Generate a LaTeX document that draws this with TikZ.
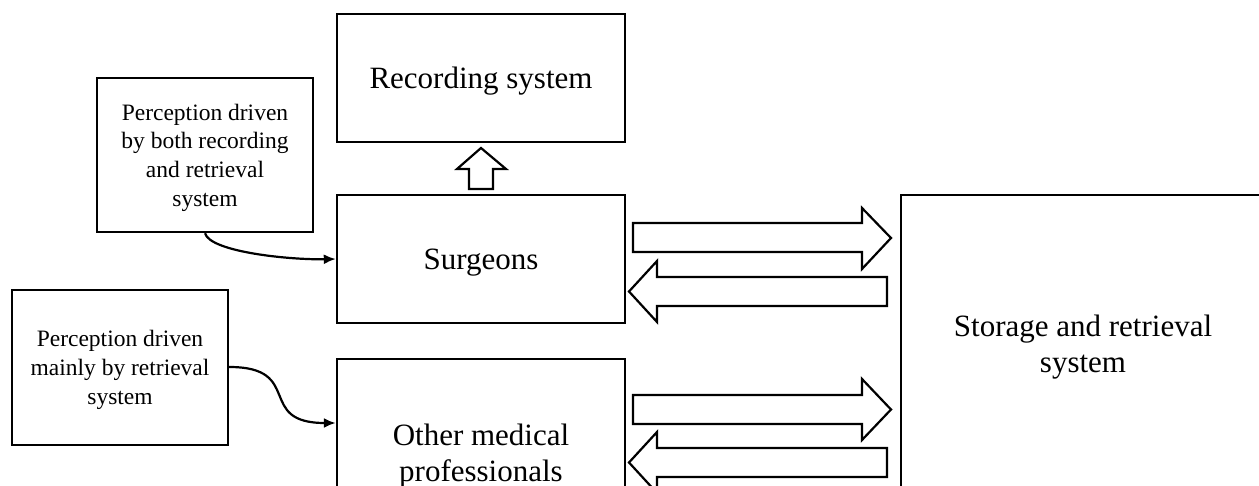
\documentclass[tikz,border=0pt]{standalone}
\usepackage{fontspec}
\setmainfont{Liberation Serif}
\usetikzlibrary{arrows.meta}
\tikzset{
  box/.style={draw, line width=2.4pt, fill=white, align=center, inner sep=0pt, text depth=0pt},
  bigtext/.style={font=\fontsize{31}{36}\selectfont},
  smalltext/.style={font=\fontsize{23.5}{28.7}\selectfont},
  blockarrow/.style={draw, line width=2.2pt, fill=white, line join=miter},
  curvearrow/.style={line width=2.2pt, -{Latex[length=12pt,width=10pt]}}
}
\begin{document}
\begin{tikzpicture}[x=1pt,y=-1pt]
\useasboundingbox (0,0) rectangle (1259,486);
\clip (0,0) rectangle (1259,486);
% boxes
\node[box, bigtext, minimum width=288pt, minimum height=128pt] (rec) at (481,78) {Recording system};
\node[box, bigtext, minimum width=288pt, minimum height=128pt] (surg) at (481,259) {Surgeons};
\node[box, bigtext, minimum width=288pt, minimum height=188pt] (other) at (481,453) {Other medical\\professionals};
\node[box, bigtext, minimum width=364pt, minimum height=298pt] (store) at (1083,344) {Storage and retrieval\\system};
\node[box, smalltext, minimum width=216pt, minimum height=154pt] (p1) at (205,155) {Perception driven\\by both recording\\and retrieval\\system};
\node[box, smalltext, minimum width=216pt, minimum height=155pt] (p2) at (120,367.5) {Perception driven\\mainly by retrieval\\system};
% curved connectors
\draw[curvearrow] (p1.south) .. controls (210,252) and (290,260) .. (surg.west);
\coordinate (c2s) at (p2.east |- 0,367);
\coordinate (c2e) at (surg.west |- 0,423);
\draw[curvearrow] (c2s) .. controls (305,367) and (255,423) .. (c2e);
% up block arrow
\draw[blockarrow] (469,189) -- (469,169) -- (457,169) -- (481,148) -- (506,169) -- (493,169) -- (493,189) -- cycle;
% right/left block arrows
\draw[blockarrow] (633,223) -- (862,223) -- (862,208) -- (891,238) -- (862,269) -- (862,252) -- (633,252) -- cycle;
\draw[blockarrow] (887,277) -- (657,277) -- (657,261) -- (629,291.5) -- (657,322) -- (657,306) -- (887,306) -- cycle;
\draw[blockarrow] (633,395) -- (862,395) -- (862,379) -- (891,409.5) -- (862,440) -- (862,424) -- (633,424) -- cycle;
\draw[blockarrow] (887,448) -- (657,448) -- (657,432) -- (629,462.5) -- (657,493) -- (657,477) -- (887,477) -- cycle;
\end{tikzpicture}
\end{document}
